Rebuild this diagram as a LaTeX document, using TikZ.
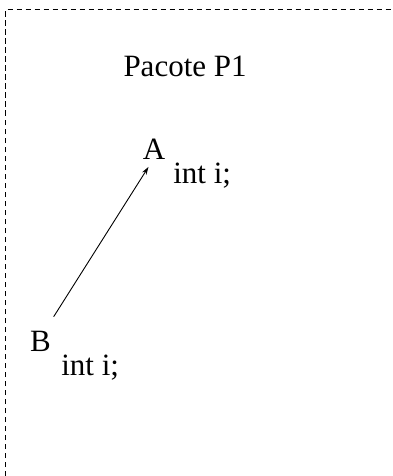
\documentclass[tikz,border=0pt]{standalone}
\usepackage{fontspec}
\setmainfont{Liberation Serif}
\usetikzlibrary{arrows.meta, positioning}
\tikzset{
  txt/.style={font=\fontsize{31}{37}\selectfont, inner sep=0pt, anchor=base west},
  frame/.style={draw=black, line width=1pt, dash pattern=on 5.5pt off 3.5pt},
  arrow/.style={line width=0.9pt, -{Stealth[length=8pt, width=5pt]}}
}
\begin{document}
\begin{tikzpicture}[x=1pt, y=-1pt]

  \useasboundingbox (0,0) rectangle (393,476);
  \draw [frame] (5.5,476) -- (5.5,10) -- (393,10);

  \node (title) [txt] at (123.3,76.7) {Pacote P1};
  \node (A) [txt] at (142.7,159.3) {A};
  \node (intA) [txt, base right=7.6pt of A, yshift=-24pt] {int i;};
  \node (B) [txt] at (30,351.7) {B};
  \node (intB) [txt, base right=10pt of B, yshift=-23.3pt] {int i;};

  \draw [arrow] ([xshift=2.6pt, yshift=14.5pt]B.north east) -- ([xshift=-5.6pt, yshift=-7.4pt]A.south);

\end{tikzpicture}
\end{document}
